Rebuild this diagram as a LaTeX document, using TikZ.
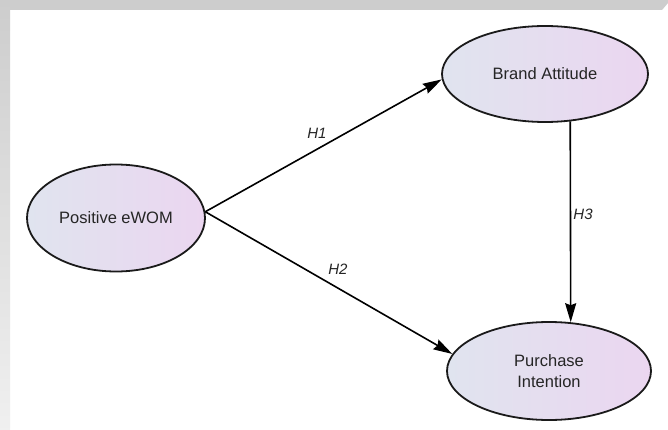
\documentclass[tikz,border=0pt]{standalone}
\usepackage{fontspec}
\setmainfont{Liberation Sans}
\usetikzlibrary{shapes.geometric,arrows.meta}
\definecolor{fillL}{HTML}{E0E4EF}
\definecolor{fillR}{HTML}{EBD6F0}
\definecolor{rim}{HTML}{1A1A1A}
\definecolor{ink}{HTML}{252525}
\definecolor{band}{HTML}{CDCDCD}
\begin{document}
\begin{tikzpicture}[x=1pt,y=-1pt,
  construct/.style={ellipse, draw=rim, line width=1.8pt,
    left color=fillL, right color=fillR, text=ink,
    font=\fontsize{16.5}{21}\selectfont, align=center, inner sep=0pt},
  link/.style={draw=black, line width=1.6pt,
    -{Stealth[length=19pt,width=11pt,inset=2pt]}},
  hyp/.style={font=\itshape\fontsize{15}{17}\selectfont, text=ink}]

\useasboundingbox (0,0) rectangle (668,430);
\fill[white] (0,0) rectangle (668,430);

% grey frame bands along the top and left edges
\fill[band] (0,0) -- (668,0) -- (668,3) -- (662,10) -- (0,10) -- cycle;
\shade[top color=band, bottom color=black!6] (0,0) rectangle (10,430);

% constructs
\node[construct, minimum width=178pt, minimum height=107pt] (pe) at (116,218) {Positive eWOM};
\node[construct, minimum width=206pt, minimum height=96pt] (ba) at (545,74) {Brand Attitude};
\node[construct, minimum width=204pt, minimum height=98pt] (pi) at (549,371) {Purchase\\Intention};

% hypothesised paths
\draw[link] (pe.4) -- (ba.183);
\draw[link] (pe.4) -- (pi.170);
\draw[link] (ba.-62) -- (pi.66);

\node[hyp] (h1) at (317,133) {H1};
\node[hyp] (h2) at (338,269) {H2};
\node[hyp] (h3) at (583,214) {H3};
\end{tikzpicture}
\end{document}
